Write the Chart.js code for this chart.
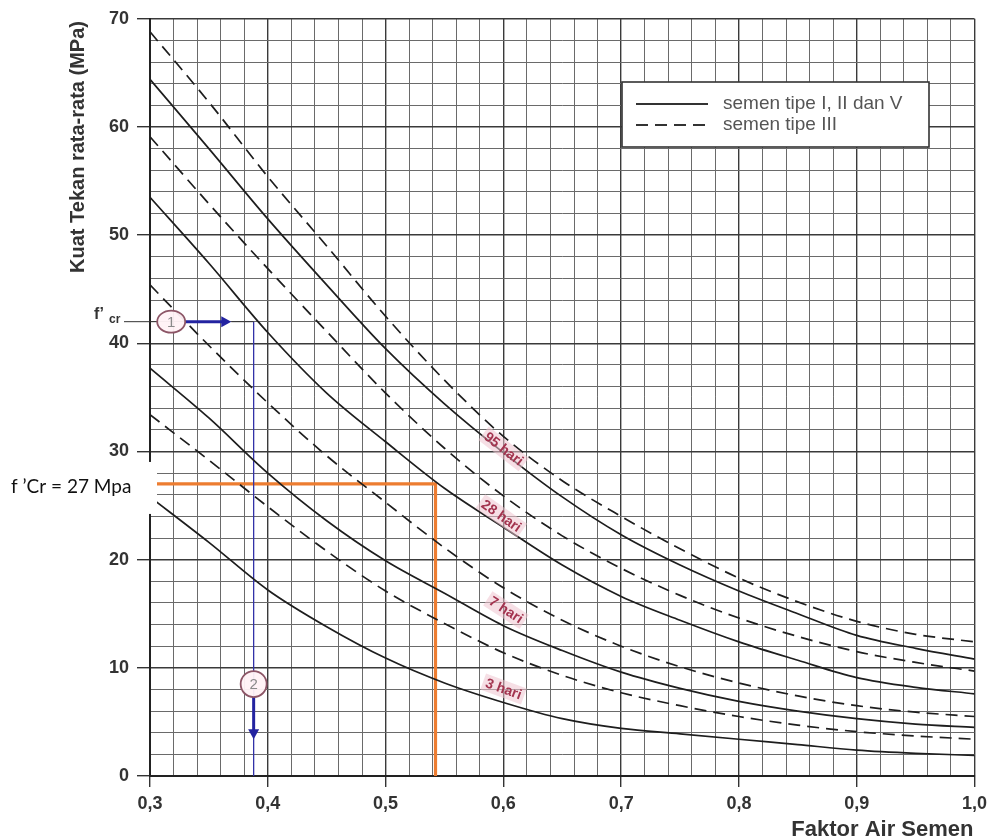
<!DOCTYPE html>
<html>
<head>
<meta charset="utf-8">
<script src="https://cdn.jsdelivr.net/npm/chart.js@4.4.1/dist/chart.umd.min.js"></script>
<style>
  html, body { margin: 0; padding: 0; background: #ffffff; }
  #wrap { width: 993px; height: 840px; position: relative; }
</style>
</head>
<body>
<div id="wrap"><canvas id="c" width="993" height="840"></canvas></div>
<script>
// ---------- DATA ----------
const faktorAirSemen = [0.30,0.35,0.40,0.45,0.50,0.55,0.60,0.65,0.70,0.75,0.80,0.85,0.90,0.95,1.00];

// semen tipe III (dashed)
const tipeIII_95hari = [68.8,62.3,55.4,49.0,42.5,36.6,31.4,27.3,24.0,21.0,18.3,16.1,14.3,13.1,12.4];
const tipeIII_28hari = [59.1,52.9,46.9,41.1,35.4,30.3,25.9,22.2,19.2,16.7,14.6,12.9,11.5,10.5,9.7];
const tipeIII_7hari  = [45.4,39.8,34.5,29.6,25.3,21.1,17.4,14.4,12.0,10.1,8.6,7.4,6.5,5.9,5.5];
const tipeIII_3hari  = [33.4,29.2,24.9,20.8,17.1,14.1,11.4,9.3,7.7,6.5,5.5,4.7,4.1,3.7,3.4];

// semen tipe I, II dan V (solid)
const tipeI_95hari = [64.4,58.0,51.5,45.4,39.5,34.4,29.9,25.8,22.3,19.5,17.1,15.0,13.0,11.8,10.8];
const tipeI_28hari = [53.5,47.4,41.0,35.4,30.9,26.6,23.0,19.5,16.6,14.4,12.4,10.7,9.1,8.2,7.6];
const tipeI_7hari  = [37.7,33.1,28.0,23.6,19.9,16.9,13.9,11.6,9.6,8.1,6.9,6.0,5.3,4.8,4.5];
const tipeI_3hari  = [25.8,21.6,17.2,13.8,10.9,8.6,6.8,5.3,4.4,3.9,3.4,2.9,2.4,2.1,1.9];

// curve labels: [text, x, y, angle(deg)]
const curveLabels = [
  ["95 hari", 0.600, 30.2, 38],
  ["28 hari", 0.598, 24.0, 35],
  ["7 hari",  0.602, 15.3, 33],
  ["3 hari",  0.600, 8.0, 20]
];

const legendLabels = ["semen tipe I, II dan V", "semen tipe III"];

// example 1 (blue): f'cr = 42 MPa -> FAS 0.388
const fcrExample = 42;
const fasExample = 0.388;
const circle1X = 0.318;
const circle2Y = 8.5;
const arrow1TipX = 0.369;
const arrow2TipY = 3.4;

// example 2 (orange): f'cr = 27 MPa -> FAS 0.5424
const fcrTarget = 27;
const fasTarget = 0.5424;
const targetLabel = "f \u2019Cr = 27 Mpa";

const xTitle = "Faktor Air Semen";
const yTitle = "Kuat Tekan rata-rata (MPa)";

// ---------- CHART ----------
const FONT = "'Liberation Sans', Arial, sans-serif";
const pts = arr => arr.map((v, i) => ({ x: faktorAirSemen[i], y: v }));
const curve = (label, arr, dashed) => ({
  label, data: pts(arr), borderColor: '#1e1e1e', borderWidth: 1.7,
  borderDash: dashed ? [12, 7] : [], pointRadius: 0, fill: false,
  cubicInterpolationMode: 'monotone'
});

const datasets = [
  curve('tipe III 95 hari', tipeIII_95hari, true),
  curve('tipe I 95 hari', tipeI_95hari, false),
  curve('tipe III 28 hari', tipeIII_28hari, true),
  curve('tipe I 28 hari', tipeI_28hari, false),
  curve('tipe III 7 hari', tipeIII_7hari, true),
  curve('tipe I 7 hari', tipeI_7hari, false),
  curve('tipe III 3 hari', tipeIII_3hari, true),
  curve('tipe I 3 hari', tipeI_3hari, false),
  {
    label: 'fcr blue', data: [{x: fasExample, y: fcrExample}, {x: fasExample, y: 0}],
    borderColor: '#3232a8', borderWidth: 1.3, pointRadius: 0, tension: 0
  },
  {
    label: 'fcr orange', data: [{x: 0.3, y: fcrTarget}, {x: fasTarget, y: fcrTarget}, {x: fasTarget, y: 0}],
    borderColor: '#ED7D31', borderWidth: 3.2, pointRadius: 0, tension: 0
  }
];

const isMajorX = v => Math.abs(v * 10 - Math.round(v * 10)) < 1e-6;
const isMajorY = v => Math.abs(v % 10) < 1e-6;

function arrowHead(ctx, x, y, dir, size) {
  ctx.beginPath();
  if (dir === 'right') { ctx.moveTo(x, y); ctx.lineTo(x - size, y - size * 0.55); ctx.lineTo(x - size, y + size * 0.55); }
  else { ctx.moveTo(x, y); ctx.lineTo(x - size * 0.55, y - size); ctx.lineTo(x + size * 0.55, y - size); }
  ctx.closePath(); ctx.fill();
}

function circleMark(ctx, cx, cy, rx, ry, txt) {
  ctx.save();
  ctx.beginPath(); ctx.ellipse(cx, cy, rx, ry, 0, 0, Math.PI * 2);
  ctx.fillStyle = 'rgba(255,242,246,0.95)'; ctx.fill();
  ctx.lineWidth = 1.8; ctx.strokeStyle = '#8c5566'; ctx.stroke();
  ctx.fillStyle = '#8a8a8a'; ctx.font = '15px ' + FONT;
  ctx.textAlign = 'center'; ctx.textBaseline = 'middle';
  ctx.fillText(txt, cx, cy + 1);
  ctx.restore();
}

const decor = {
  id: 'decor',
  afterDatasetsDraw(chart) {
    const ctx = chart.ctx, xs = chart.scales.x, ys = chart.scales.y, ca = chart.chartArea;
    ctx.save();
    // curve labels
    curveLabels.forEach(([t, x, y, a]) => {
      const px = xs.getPixelForValue(x), py = ys.getPixelForValue(y);
      ctx.save(); ctx.translate(px, py); ctx.rotate(a * Math.PI / 180);
      ctx.font = 'bold 14px ' + FONT;
      const w = ctx.measureText(t).width;
      ctx.fillStyle = 'rgba(238,196,208,0.55)';
      ctx.fillRect(-w / 2 - 3, -9, w + 6, 17);
      ctx.fillStyle = '#a3344f'; ctx.textAlign = 'center'; ctx.textBaseline = 'middle';
      ctx.fillText(t, 0, 0);
      ctx.restore();
    });

    // blue example annotation
    const yF = ys.getPixelForValue(fcrExample);
    const c1x = xs.getPixelForValue(circle1X);
    const xE = xs.getPixelForValue(fasExample);
    const tip1 = xs.getPixelForValue(arrow1TipX);
    ctx.strokeStyle = '#333'; ctx.lineWidth = 1;
    ctx.beginPath(); ctx.moveTo(ca.left - 26, yF); ctx.lineTo(c1x - 14, yF); ctx.stroke();
    ctx.beginPath(); ctx.moveTo(tip1, yF); ctx.lineTo(xE, yF); ctx.stroke();
    ctx.strokeStyle = '#2323a0'; ctx.fillStyle = '#2323a0'; ctx.lineWidth = 3;
    ctx.beginPath(); ctx.moveTo(c1x + 14, yF); ctx.lineTo(tip1 - 6, yF); ctx.stroke();
    arrowHead(ctx, tip1, yF, 'right', 10);
    circleMark(ctx, c1x, yF, 14, 11, '1');
    // f'cr label
    ctx.fillStyle = '#333'; ctx.textBaseline = 'alphabetic'; ctx.textAlign = 'left';
    ctx.font = 'bold 16px ' + FONT; ctx.fillText('f\u2019', ca.left - 56, yF - 3);
    ctx.font = 'bold 12px ' + FONT; ctx.fillText('cr', ca.left - 41, yF + 1);

    const c2y = ys.getPixelForValue(circle2Y);
    const tip2 = ys.getPixelForValue(arrow2TipY);
    ctx.strokeStyle = '#2323a0'; ctx.fillStyle = '#2323a0'; ctx.lineWidth = 3;
    ctx.beginPath(); ctx.moveTo(xE, c2y + 12); ctx.lineTo(xE, tip2 - 6); ctx.stroke();
    arrowHead(ctx, xE, tip2, 'down', 10);
    circleMark(ctx, xE, c2y, 13, 13, '2');

    // legend box
    const bx = 622, by = 82, bw = 307, bh = 65;
    ctx.fillStyle = '#ffffff'; ctx.fillRect(bx, by, bw, bh);
    ctx.strokeStyle = '#333'; ctx.lineWidth = 1.6; ctx.strokeRect(bx, by, bw, bh);
    ctx.strokeStyle = '#333'; ctx.lineWidth = 1.8;
    ctx.beginPath(); ctx.setLineDash([]); ctx.moveTo(bx + 14, by + 22); ctx.lineTo(bx + 86, by + 22); ctx.stroke();
    ctx.beginPath(); ctx.setLineDash([12, 7]); ctx.moveTo(bx + 14, by + 43); ctx.lineTo(bx + 86, by + 43); ctx.stroke();
    ctx.setLineDash([]);
    ctx.fillStyle = '#555'; ctx.font = '19px ' + FONT; ctx.textBaseline = 'middle';
    ctx.fillText(legendLabels[0], bx + 101, by + 22);
    ctx.fillText(legendLabels[1], bx + 101, by + 43);

    // white label box for orange line
    const yT = ys.getPixelForValue(fcrTarget);
    ctx.fillStyle = '#ffffff'; ctx.fillRect(0, yT - 22, ca.left + 7, 52);
    ctx.fillStyle = '#111'; ctx.font = '19px Lato, ' + FONT; ctx.textBaseline = 'alphabetic';
    ctx.fillText(targetLabel, 11, yT + 9);

    // axis titles
    ctx.fillStyle = '#333'; ctx.font = 'bold 22px ' + FONT; ctx.textAlign = 'right';
    ctx.fillText(xTitle, ca.right - 1, 836);
    ctx.save(); ctx.translate(78, 147); ctx.rotate(-Math.PI / 2);
    ctx.textAlign = 'center'; ctx.textBaseline = 'middle'; ctx.font = 'bold 20px ' + FONT; ctx.fillText(yTitle, 0, 0);
    ctx.restore();
    ctx.restore();
  }
};

new Chart(document.getElementById('c'), {
  type: 'line',
  data: { datasets },
  options: {
    responsive: false, animation: false,
    layout: { padding: { left: 0, right: 16, top: 16, bottom: 0 } },
    plugins: { legend: { display: false }, tooltip: { enabled: false } },
    scales: {
      x: {
        type: 'linear', min: 0.3, max: 1.0,
        afterFit: s => { s.height = 64; },
        ticks: {
          stepSize: 0.02, autoSkip: false, maxRotation: 0, padding: 6,
          color: '#333', font: { family: FONT, size: 18, weight: 'bold' },
          callback: v => isMajorX(v) ? v.toFixed(1).replace('.', ',') : ''
        },
        grid: {
          color: c => isMajorX(c.tick.value) ? '#3a3a3a' : '#6a6a6a',
          lineWidth: c => isMajorX(c.tick.value) ? 1.4 : 1,
          tickLength: 11,
          tickColor: c => isMajorX(c.tick.value) ? '#333' : 'rgba(0,0,0,0)'
        },
        border: { display: true, color: '#222', width: 2 }
      },
      y: {
        type: 'linear', min: 0, max: 70,
        afterFit: s => { s.width = 150; },
        ticks: {
          stepSize: 2, autoSkip: false, padding: 8,
          color: '#333', font: { family: FONT, size: 18, weight: 'bold' },
          callback: v => isMajorY(v) ? String(v) : ''
        },
        grid: {
          color: c => isMajorY(c.tick.value) ? '#3a3a3a' : '#6a6a6a',
          lineWidth: c => isMajorY(c.tick.value) ? 1.4 : 1,
          tickLength: 13,
          tickColor: c => isMajorY(c.tick.value) ? '#333' : 'rgba(0,0,0,0)'
        },
        border: { display: true, color: '#222', width: 2 }
      }
    }
  },
  plugins: [decor]
});
</script>
</body>
</html>
